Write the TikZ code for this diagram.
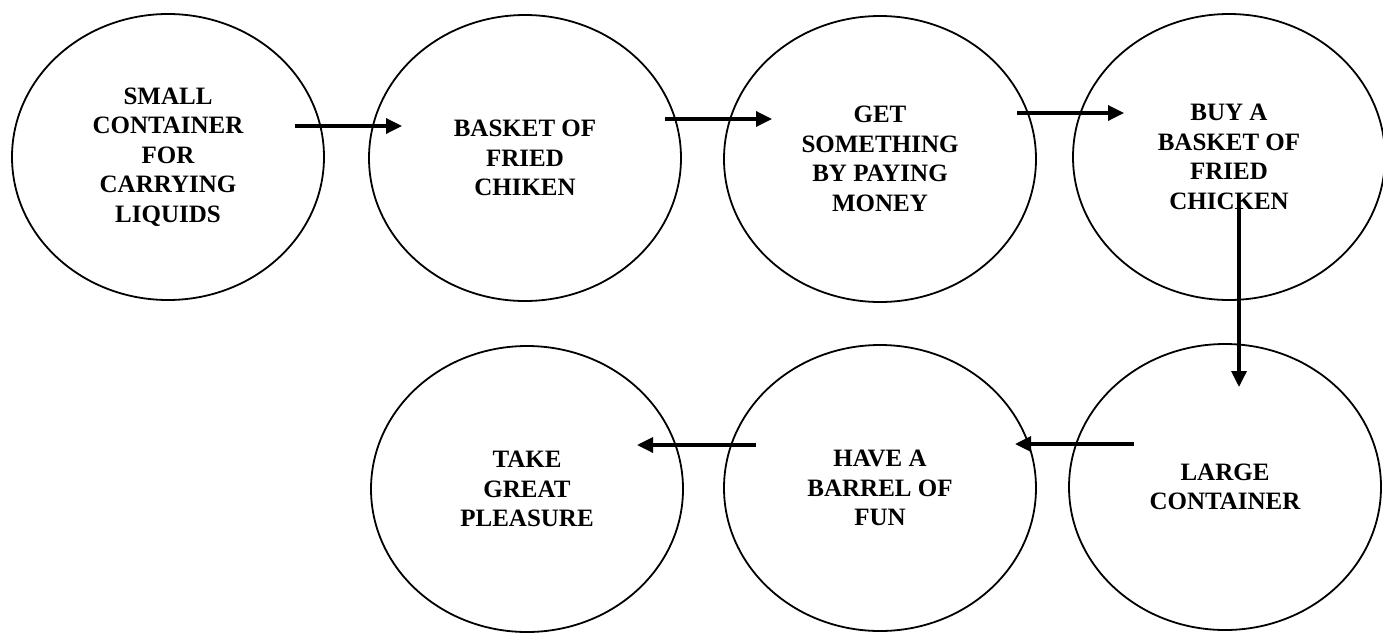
\documentclass[tikz,border=0pt]{standalone}
\usepackage{fontspec}
\setmainfont{Liberation Serif}
\usetikzlibrary{shapes.geometric,arrows.meta}

\tikzset{
  stage/.style={draw=black, line width=1.8pt, ellipse, inner sep=0pt,
    minimum width=312pt, minimum height=286pt, align=center,
    font=\bfseries\fontsize{25}{29.5}\selectfont},
  flow/.style={line width=3.4pt, -{Triangle[length=16pt,width=15pt]}}
}

\begin{document}
\begin{tikzpicture}[x=1pt,y=-1pt]
  % page frame
  \fill[white] (0,0) rectangle (1383,632);
  \useasboundingbox (0,0) rectangle (1383,632);

  % upper row
  \node[stage] (e1) at (168,157) {SMALL\\CONTAINER\\FOR\\CARRYING\\LIQUIDS};
  \node[stage] (e2) at (525,158) {BASKET OF\\FRIED\\CHIKEN};
  \node[stage] (e3) at (880,159) {GET\\SOMETHING\\BY PAYING\\MONEY};
  \node[stage] (e4) at (1229,157) {BUY A\\BASKET OF\\FRIED\\CHICKEN};

  % lower row
  \node[stage] (e5) at (1225,487) {LARGE\\CONTAINER};
  \node[stage] (e6) at (880,488) {HAVE A\\BARREL OF\\FUN};
  \node[stage] (e7) at (527,489) {TAKE\\GREAT\\PLEASURE};

  % arrow end points
  \coordinate (a1s) at (295,126);  \coordinate (a1e) at (402,126);
  \coordinate (a2s) at (665,119);  \coordinate (a2e) at (772,119);
  \coordinate (a3s) at (1017,113); \coordinate (a3e) at (1124,113);
  \coordinate (a4s) at (1239,208); \coordinate (a4e) at (1239,387);
  \coordinate (a5s) at (1134,444); \coordinate (a5e) at (1015,444);
  \coordinate (a6s) at (756,445);  \coordinate (a6e) at (637,445);

  \draw[flow] (a1s) -- (a1e);
  \draw[flow] (a2s) -- (a2e);
  \draw[flow] (a3s) -- (a3e);
  \draw[flow] (a4s) -- (a4e);
  \draw[flow] (a5s) -- (a5e);
  \draw[flow] (a6s) -- (a6e);
\end{tikzpicture}
\end{document}
